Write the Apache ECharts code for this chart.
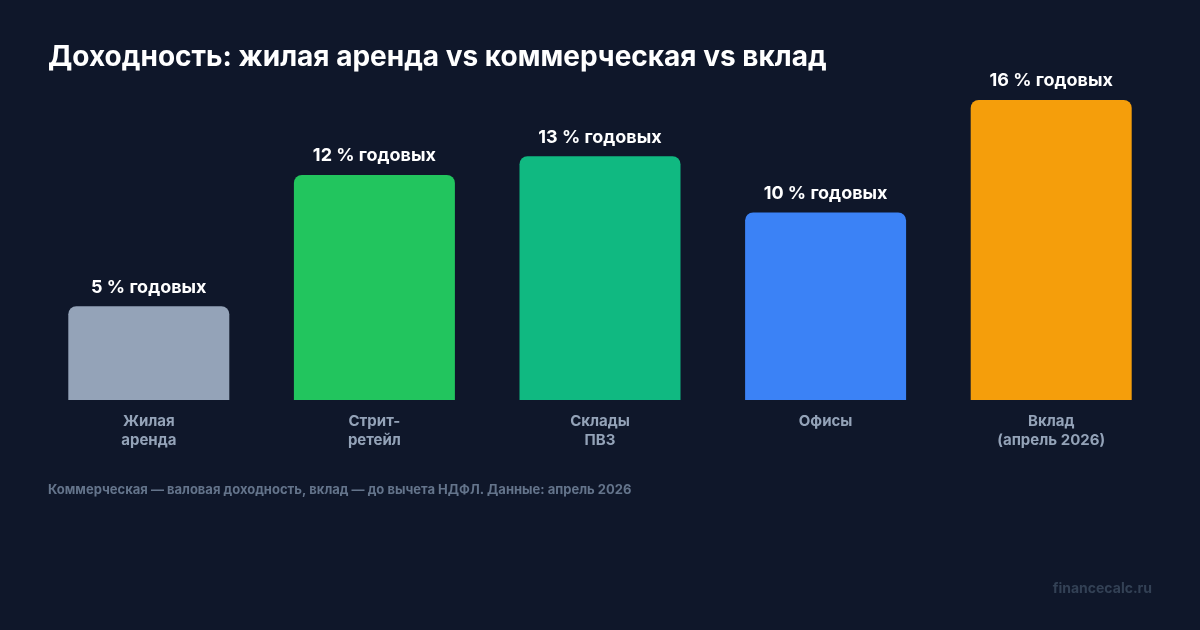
<!DOCTYPE html>
<html>
<head>
<meta charset="utf-8">
<script src="https://cdn.jsdelivr.net/npm/echarts@6/dist/echarts.min.js"></script>
<style>
	html, body { margin: 0; padding: 0; background: #0f172a; }
	#main { width: 1200px; height: 630px; }
</style>
</head>
<body>
<div id="main"></div>
<script>
// данные
var categories = ['Жилая\nаренда', 'Стрит-\nретейл', 'Склады\nПВЗ', 'Офисы', 'Вклад\n(апрель 2026)'];
var values = [5, 12, 13, 10, 16];
var colors = ['#94a3b8', '#22c55e', '#10b981', '#3b82f6', '#f59e0b'];

var myChart = echarts.init(document.getElementById('main'));

var option = {
	backgroundColor : '#0f172a',
	textStyle : { fontFamily : 'Inter, "Noto Sans", sans-serif' },
	title : [ {
		text : 'Доходность: жилая аренда vs коммерческая vs вклад',
		left : 48,
		top : 44,
		padding : 0,
		textStyle : { color : '#ffffff', fontSize : 28, fontWeight : 'bold', fontFamily : 'Inter' }
	}, {
		text : 'Коммерческая — валовая доходность, вклад — до вычета НДФЛ. Данные: апрель 2026',
		left : 48,
		top : 484,
		padding : 0,
		textStyle : { color : '#64748b', fontSize : 13, fontWeight : 'bold', fontFamily : 'Inter' }
	}, {
		text : 'financecalc.ru',
		right : 48,
		top : 582,
		padding : 0,
		textStyle : { color : '#334155', fontSize : 14, fontWeight : 'bold', fontFamily : 'Inter' }
	} ],
	grid : { left : 36, right : 36, top : 100, bottom : 230 },
	xAxis : {
		type : 'category',
		data : categories,
		axisLine : { show : false },
		axisTick : { show : false },
		axisLabel : {
			color : '#94a3b8', fontSize : 15, fontWeight : 'bold', lineHeight : 19,
			margin : 12, fontFamily : 'Inter'
		}
	},
	yAxis : {
		type : 'value',
		min : 0,
		max : 16,
		show : false
	},
	series : [ {
		type : 'bar',
		barWidth : 161,
		data : values.map(function(v, i) {
			return { value : v, itemStyle : { color : colors[i] } };
		}),
		itemStyle : { borderRadius : [ 8, 8, 0, 0 ] },
		label : {
			show : true,
			position : 'top',
			distance : 10,
			formatter : '{c} % годовых',
			color : '#ffffff',
			fontSize : 18,
			fontWeight : 'bold',
			fontFamily : 'Inter'
		}
	} ]
};
myChart.setOption(option);
</script>
</body>
</html>
